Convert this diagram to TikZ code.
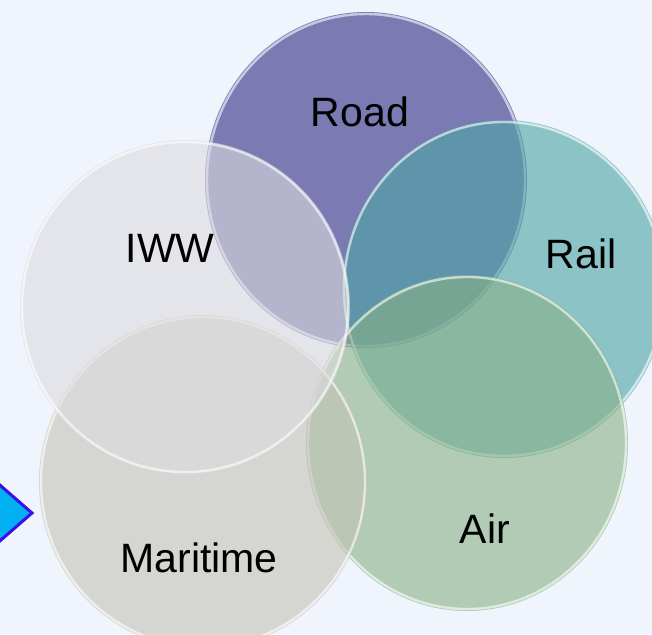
\documentclass[tikz,border=0pt]{standalone}
\usepackage{fontspec}
\setmainfont{Liberation Sans}

\definecolor{bgcol}{RGB}{240,244,253}
\definecolor{roadcol}{RGB}{123,122,178}
\definecolor{railcol}{RGB}{79,166,166}
\definecolor{aircol}{RGB}{136,176,133}
\definecolor{seacol}{RGB}{196,195,181}
\definecolor{iwwcol}{RGB}{221,220,224}
\definecolor{arrowfill}{RGB}{0,176,240}
\definecolor{arrowline}{RGB}{58,16,229}

\begin{document}
\begin{tikzpicture}[x=0.5pt,y=-0.5pt,
    glass/.style={draw=white,draw opacity=0.6,line width=1.2pt},
    modetext/.style={font=\fontsize{20.5}{24}\selectfont,anchor=base,inner sep=0pt}]
        % Hintergrund
        \fill[bgcol] (0,0) rectangle (652,634);
        \useasboundingbox (0,0) rectangle (652,634);
        \clip (0,0) rectangle (652,634);

        % Pfeil am linken Rand
        \draw[fill=arrowfill,draw=arrowline,line width=1.5pt,line join=miter]
            (-30,459) -- (32,513) -- (-30,567) -- cycle;

        % Kreise (Road unten, IWW oben)
        \fill[roadcol] (366,180) ellipse [x radius=161, y radius=168];
        \draw[glass] (366,180) ellipse [x radius=159, y radius=166];
        \fill[railcol,fill opacity=0.62] (504,289) ellipse [x radius=162, y radius=169];
        \draw[glass] (504,289) ellipse [x radius=160, y radius=167];
        \fill[aircol,fill opacity=0.6] (467,443) ellipse [x radius=161, y radius=168];
        \draw[glass] (467,443) ellipse [x radius=159, y radius=166];
        \fill[seacol,fill opacity=0.6] (203,482) ellipse [x radius=164, y radius=167];
        \draw[glass] (203,482) ellipse [x radius=162, y radius=165];
        \fill[iwwcol,fill opacity=0.6] (185,307) ellipse [x radius=165, y radius=167];
        \draw[glass] (185,307) ellipse [x radius=163, y radius=165];

        % Beschriftungen
        \node[modetext] (road) at (360,126) {Road};
        \node[modetext] (rail) at (581,268) {Rail};
        \node[modetext] (iww) at (170,262) {IWW};
        \node[modetext] (air) at (485,543) {Air};
        \node[modetext] (maritime) at (199,572) {Maritime};
    \end{tikzpicture}
\end{document}
